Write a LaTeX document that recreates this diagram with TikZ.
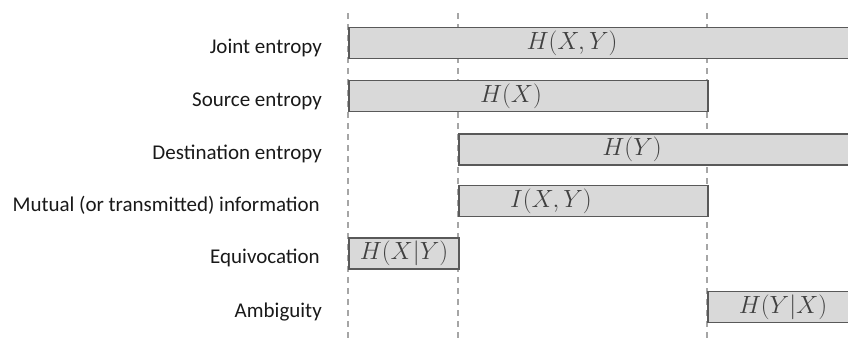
\documentclass[tikz,border=0pt]{standalone}
\usepackage{fontspec}
\setmainfont{Carlito}
\usetikzlibrary{positioning}
\definecolor{barfill}{HTML}{D9D9D9}
\definecolor{barline}{HTML}{595959}
\definecolor{guidegray}{HTML}{A6A6A6}

\begin{document}
\begin{tikzpicture}[x=1pt, y=-1pt,
    bar/.style={draw=barline, fill=barfill, line width=1.6pt, minimum height=31pt, inner sep=0pt, anchor=west},
    quantity/.style={font=\fontsize{25}{30}\selectfont, inner sep=0pt, text=black!75},
    rowlabel/.style={anchor=base east, font=\fontsize{21}{25}\selectfont, inner sep=0pt, text=black!90},
    guide/.style={draw=guidegray, line width=1.1pt, dash pattern=on 6pt off 5pt}]

    \clip (0,0) rectangle (848,338);

    % Guides
    \coordinate (gatop) at (348,13);
    \coordinate (gabot) at (348,338);
    \coordinate (gbtop) at (458,13);
    \coordinate (gbbot) at (458,338);
    \coordinate (gctop) at (707,13);
    \coordinate (gcbot) at (707,338);
    \draw[guide] (gatop) -- (gabot);
    \draw[guide] (gbtop) -- (gbbot);
    \draw[guide] (gctop) -- (gcbot);

    % Bars
    \node (joint) [bar, minimum width=504pt] at (348,43) {};
    \node (source) [bar, minimum width=359pt] at (348,96) {};
    \node (dest) [bar, minimum width=394pt] at (458,149.5) {};
    \node (mutual) [bar, minimum width=249pt] at (458,201) {};
    \node (equiv) [bar, minimum width=110pt] at (348,253.5) {};
    \node (ambig) [bar, minimum width=145pt] at (707,307) {};

    % Quantities
    \node (hxy) [quantity] at (572,43) {$H(X,Y)$};
    \node (hx) [quantity] at (511,96) {$H(X)$};
    \node (hy) [quantity] at (632,149.5) {$H(Y)$};
    \node (ixy) [quantity] at (551,201) {$I(X,Y)$};
    \node (hxgy) [quantity] at (404,253.5) {$H(X|Y)$};
    \node (hygx) [quantity] at (783,307) {$H(Y|X)$};

    % Labels
    \node (ljoint) [rowlabel] at (322,53) {Joint entropy};
    \node (lsource) [rowlabel] at (322,106) {Source entropy};
    \node (ldest) [rowlabel] at (322,159.5) {Destination entropy};
    \node (lmutual) [rowlabel] at (320,211) {Mutual (or transmitted) information};
    \node (lequiv) [rowlabel] at (320,263.5) {Equivocation};
    \node (lambig) [rowlabel] at (322,317) {Ambiguity};
\end{tikzpicture}
\end{document}
